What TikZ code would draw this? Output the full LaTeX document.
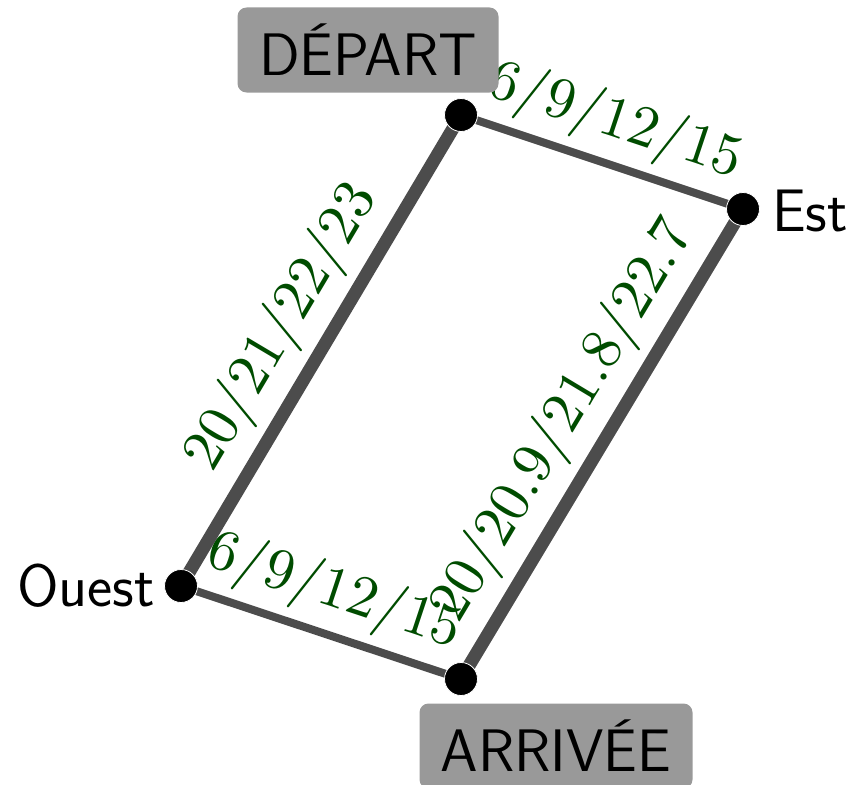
\documentclass[tikz,border=0pt]{standalone}
\usepackage{fontspec}
\usetikzlibrary{backgrounds}
% times on the roads, in the 10pt design of Computer Modern scaled up
\font\timesfont=cmr10 at 58.5pt
\begin{document}
\begin{tikzpicture}[x=1pt,y=-1pt,
  dot/.style={circle,fill=black,draw=white,line width=0.8pt,minimum size=33pt,inner sep=0pt},
  road/.style={draw=black!70,line width=8pt},
  wide/.style={road,line width=13pt},
  dist/.style={midway,sloped,above,inner sep=9pt,text=green!30!black,font=\timesfont},
  place/.style={font=\sffamily\fontsize{60}{60}\selectfont,inner sep=0pt},
  endbox/.style={place,fill=black!40,rounded corners=9pt,minimum width=261pt,minimum height=85pt}]
  \useasboundingbox (0,0) rectangle (850,784);

  % stops
  \node[dot] (dep) at (461,115) {};
  \node[dot] (est) at (743,209) {};
  \node[dot] (oue) at (181,586) {};
  \node[dot] (arr) at (461,679) {};

  % stop names
  \node[endbox] (depbox) at (368,50) {DÉPART};
  \node[endbox,minimum width=273pt] (arrbox) at (556,746) {ARRIVÉE};
  \node[place] (ouest) at (86,586) {Ouest};
  \node[place] (estname) at (810,211) {Est};

  % roads with their times
  \begin{scope}[on background layer]
    \draw[road] (dep.center) -- node[dist] {6/9/12/15} (est.center);
    \draw[road] (oue.center) -- node[dist] {6/9/12/15} (arr.center);
    \draw[wide] (oue.center) -- node[dist] {20/21/22/23} (dep.center);
    \draw[wide] (arr.center) -- node[dist] {20/20.9/21.8/22.7} (est.center);
  \end{scope}
\end{tikzpicture}
\end{document}
